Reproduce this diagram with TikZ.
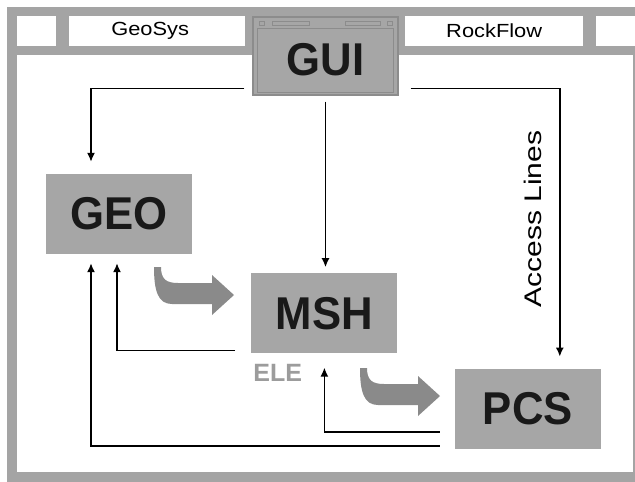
\documentclass[tikz,border=0pt]{standalone}
\usepackage{fontspec}
\setmainfont{Liberation Sans}
\usepackage{tikz}
\usetikzlibrary{positioning,arrows.meta}

\definecolor{boxgray}{HTML}{A6A6A6}
\definecolor{framegray}{HTML}{A4A4A4}
\definecolor{edgegray}{HTML}{8C8C8C}
\definecolor{flowgray}{HTML}{8A8A8A}
\definecolor{elegray}{HTML}{9C9C9C}

\tikzstyle{module}=[rectangle, fill=boxgray, minimum width=146pt, minimum height=80pt,
        inner sep=0pt, text=black!90, font=\fontsize{46}{46}\selectfont\bfseries]
\tikzstyle{tab}=[rectangle, fill=white, minimum height=30pt, inner sep=0pt, anchor=north west,
        font=\fontsize{19}{19}\selectfont]
\tikzstyle{link}=[draw=black, line width=1.6pt, -{Latex[length=9pt,width=8pt]}, shorten >=12pt]
\tikzstyle{flow}=[fill=flowgray]

\begin{document}
\begin{tikzpicture}[x=1pt, y=-1pt, node distance=0pt]
        \useasboundingbox (0,0) rectangle (635,482);
        % window frame
        \fill[framegray] (7,7) rectangle (640,490);
        \fill[white] (17,55) rectangle (633,472);
        \node (tabA) [tab, minimum width=39pt] at (17,16) {};
        \node (GeoSys) [tab, minimum width=176pt] at (69,16) {\hspace*{-14pt}\scalebox{1.15}[1]{GeoSys}};
        \node (RockFlow) [tab, minimum width=178pt] at (405,16) {\scalebox{1.15}[1]{RockFlow}};
        \node (tabB) [tab, minimum width=40pt] at (596,16) {};

        % modules
        \node (GUI) [module, minimum width=145pt, minimum height=78pt, text height=40pt,
          draw=edgegray, line width=1.2pt] at (325.5,56) {\scalebox{0.95}[1]{GUI}};
        \node (GEO) [module] at (119,214) {\scalebox{0.95}[1]{GEO}};
        \node (MSH) [module, below right=19pt and 59pt of GEO] {\scalebox{0.95}[1]{MSH}};
        \node (PCS) [module, below right=15pt and 57pt of MSH] {\scalebox{0.95}[1]{PCS}};
        \node (ELE) [anchor=north west, inner sep=0pt, text=elegray,
          font=\fontsize{25}{25}\selectfont\bfseries] at ([shift={(2pt,-10pt)}]MSH.south west) {ELE};

        % GUI title bar
        \draw[edgegray, line width=0.8pt] ([shift={(5pt,-12pt)}]GUI.north west) rectangle ([shift={(-5pt,3pt)}]GUI.south east);
        \draw[edgegray, line width=0.8pt] ([shift={(7pt,-5pt)}]GUI.north west) rectangle ++(5pt,-4pt);
        \draw[edgegray, line width=0.8pt] ([shift={(20pt,-5pt)}]GUI.north west) rectangle ++(37pt,-4pt);
        \draw[edgegray, line width=0.8pt] ([shift={(-53pt,-5pt)}]GUI.north east) rectangle ++(35pt,-4pt);
        \draw[edgegray, line width=0.8pt] ([shift={(-11pt,-5pt)}]GUI.north east) rectangle ++(5pt,-4pt);

        % access lines
        \draw[link] ([shift={(-8pt,7pt)}]GUI.south west) -| ([xshift=-28pt]GEO.north);
        \draw[link] ([yshift=-6pt]GUI.south) -- ([yshift=-6pt]GUI.south |- MSH.north);
        \draw[link] ([shift={(12pt,7pt)}]GUI.south east) -| ([xshift=32pt]PCS.north);
        \node (access) [rotate=90, inner sep=0pt, font=\fontsize{24}{24}\selectfont] at (533,219)
          {\scalebox{1.25}[1]{Access Lines}};

        % feedback lines
        \draw[link, shorten >=9pt] ([shift={(-16pt,3pt)}]MSH.south west) -| ([xshift=-2pt]GEO.south);
        \draw[link, shorten >=14pt] ([shift={(-15pt,17pt)}]PCS.south west) -| (MSH.south);
        \draw[link, shorten >=9pt] ([shift={(-15pt,3pt)}]PCS.south west) -| ([xshift=-28pt]GEO.south);

        % data flow arrows
        \foreach \tip in {(234,295),(440,396)}
          \fill[flow, shift={\tip}] (-80,-28) -- (-73,-28)
            .. controls (-73,-16) and (-68,-12) .. (-56,-12) -- (-22,-12) -- (-22,-20) -- (0,0)
            -- (-22,20) -- (-22,9) -- (-62,9) .. controls (-76,9) and (-80,-4) .. (-80,-28) -- cycle;
\end{tikzpicture}
\end{document}
